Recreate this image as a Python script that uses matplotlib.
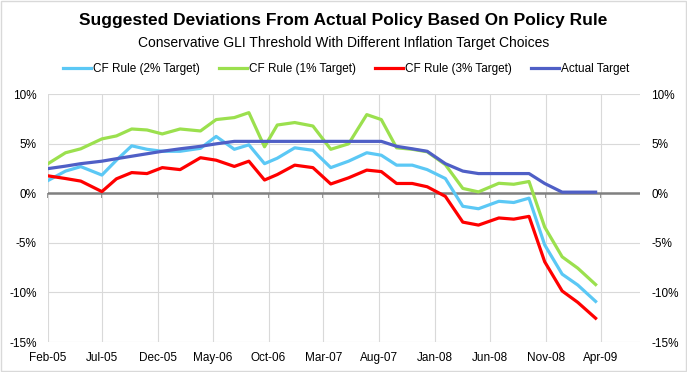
import matplotlib
matplotlib.use("Agg")
import matplotlib.pyplot as plt
from matplotlib.patches import Rectangle
from datetime import datetime, timedelta

plt.rcParams['font.family'] = ['Liberation Sans', 'DejaVu Sans']

# FOMC meeting dates
meeting_dates = [
    "2005-02-02", "2005-03-22", "2005-05-03", "2005-06-30", "2005-08-09", "2005-09-20", "2005-11-01", "2005-12-13",
    "2006-01-31", "2006-03-28", "2006-05-10", "2006-06-29", "2006-08-08", "2006-09-20", "2006-10-25", "2006-12-12",
    "2007-01-31", "2007-03-21", "2007-05-09", "2007-06-28", "2007-08-07", "2007-09-18", "2007-10-31", "2007-12-11",
    "2008-01-30", "2008-03-18", "2008-04-30", "2008-06-25", "2008-08-05", "2008-09-16", "2008-10-29", "2008-12-16",
    "2009-01-28", "2009-03-18",
]

cf_rule_2 = [1.3, 2.25, 2.7, 1.85, 3.35, 4.8, 4.45, 4.25,
             4.25, 4.55, 5.75, 4.45, 4.9, 3.0, 3.55, 4.6,
             4.35, 2.6, 3.25, 4.1, 3.85, 2.85, 2.85, 2.4,
             1.5, -1.3, -1.55, -0.8, -0.92, -0.48, -5.2, -8.15,
             -9.25, -10.9]

cf_rule_1 = [3.0, 4.1, 4.5, 5.5, 5.8, 6.5, 6.4, 6.0,
             6.5, 6.3, 7.45, 7.65, 8.15, 4.7, 6.9, 7.15,
             6.8, 4.45, 5.0, 7.95, 7.45, 4.6, 4.45, 4.2,
             2.9, 0.5, 0.15, 1.02, 0.92, 1.2, -3.4, -6.4,
             -7.55, -9.2]

cf_rule_3 = [1.77, 1.5, 1.24, 0.18, 1.47, 2.1, 2.0, 2.6,
             2.4, 3.6, 3.35, 2.72, 3.25, 1.35, 1.9, 2.85,
             2.6, 0.95, 1.57, 2.35, 2.2, 1.0, 1.0, 0.67,
             -0.3, -2.9, -3.2, -2.48, -2.6, -2.32, -6.9, -9.85,
             -11.0, -12.6]

actual_target = [2.5, 2.75, 3.0, 3.25, 3.5, 3.75, 4.0, 4.25,
                 4.5, 4.75, 5.0, 5.25, 5.25, 5.25, 5.25, 5.25,
                 5.25, 5.25, 5.25, 5.25, 5.25, 4.75, 4.5, 4.25,
                 3.0, 2.25, 2.0, 2.0, 2.0, 2.0, 1.0, 0.125,
                 0.125, 0.125]

tick_labels = ["Feb-05", "Jul-05", "Dec-05", "May-06", "Oct-06", "Mar-07",
               "Aug-07", "Jan-08", "Jun-08", "Nov-08", "Apr-09"]
y_ticks = [-15, -10, -5, 0, 5, 10]

x = [datetime.strptime(d, "%Y-%m-%d") for d in meeting_dates]
tick_dates = [datetime.strptime(t, "%b-%y") for t in tick_labels]

fig = plt.figure(figsize=(6.87, 3.72), dpi=100)
ax = fig.add_axes([0.0694, 0.0806, 0.8622, 0.6659])

# horizontal axis line at 0
ax.axhline(0, color='#808080', lw=1.8, zorder=1.5)

ax.plot(x, cf_rule_2, color='#5BC8F5', lw=2.3, label='CF Rule (2% Target)', zorder=2)
ax.plot(x, cf_rule_1, color='#9BE04E', lw=2.3, label='CF Rule (1% Target)', zorder=2)
ax.plot(x, cf_rule_3, color='#FF0000', lw=2.3, label='CF Rule (3% Target)', zorder=2)
ax.plot(x, actual_target, color='#4F5FC6', lw=2.3, label='Actual Target', zorder=2)

ax.set_xlim(datetime(2005, 2, 1), datetime(2005, 2, 1) + timedelta(days=1628))
ax.set_ylim(-15, 10)
ax.set_xticks(tick_dates)
ax.set_xticklabels(tick_labels)
ax.set_yticks(y_ticks)
ax.set_yticklabels([f"{v}%" for v in y_ticks])

ax.grid(True, color='#d9d9d9', lw=0.8)
ax.set_axisbelow(True)
for s in ax.spines.values():
    s.set_visible(False)
ax.tick_params(axis='x', length=0, pad=7, labelsize=8.5)
ax.tick_params(axis='y', length=0, labelsize=8.5, labelright=True, pad=8)

# small tick marks hanging below the zero line
secax = ax.secondary_xaxis(0.6)
secax.set_alignment('bottom')
secax.set_xticks(tick_dates)
secax.tick_params(axis='x', labelbottom=False, labeltop=False, direction='out',
                  length=3.5, width=1.2, color='#808080')
for s in secax.spines.values():
    s.set_visible(False)

fig.text(0.5, 1 - 20 / 372, "Suggested Deviations From Actual Policy Based On Policy Rule",
         ha='center', va='center', fontsize=12.5, fontweight='bold')
fig.text(0.5, 1 - 43 / 372, "Conservative GLI Threshold With Different Inflation Target Choices",
         ha='center', va='center', fontsize=10)

fig.legend(loc='center', bbox_to_anchor=(346 / 687, 1 - 69 / 372), ncol=4, frameon=False,
           fontsize=8.5, handlelength=2.4, handletextpad=0.15, columnspacing=1.6)

fig.patches.append(Rectangle((0.001, 0.002), 0.998, 0.996, transform=fig.transFigure,
                             fill=False, edgecolor='#d9d9d9', lw=1))

fig.savefig("out.png", dpi=100)
